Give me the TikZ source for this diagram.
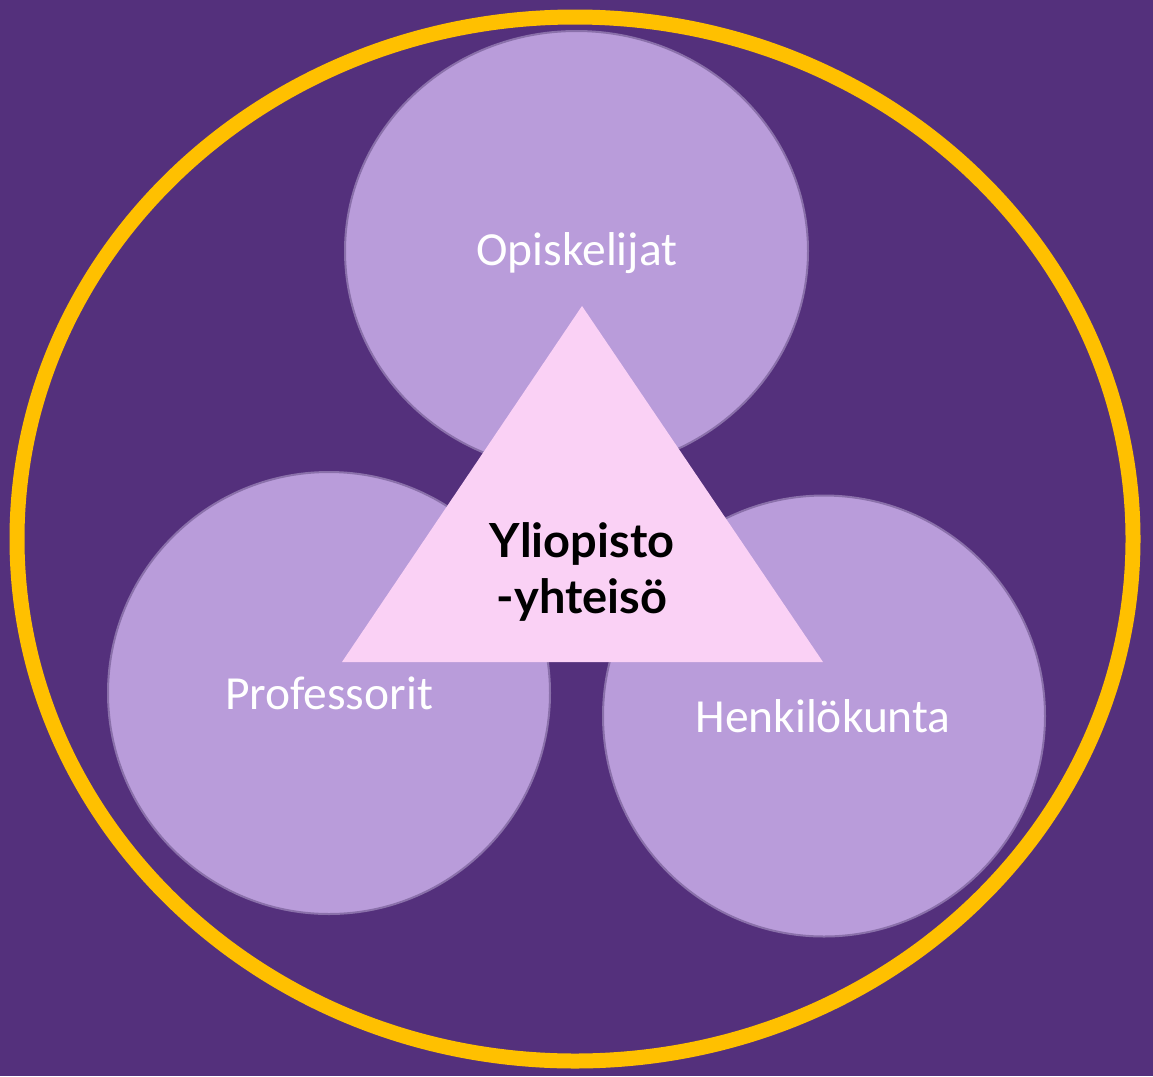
\documentclass[tikz,border=0pt]{standalone}
\usetikzlibrary{shapes.geometric}
\usepackage{fontspec}
\setmainfont{Carlito}
\newfontfamily\centerfont{Lato}
\definecolor{bgpurple}{HTML}{54307C}
\definecolor{ringyellow}{HTML}{FFC000}
\definecolor{circfill}{HTML}{B99CDA}
\definecolor{circline}{HTML}{8A70AA}
\definecolor{trifill}{HTML}{FAD1F5}
\tikzset{
  member/.style={ellipse, fill=circfill, draw=circline, line width=2pt, inner sep=0pt},
  memberlabel/.style={anchor=base, text=white, font=\fontsize{47.5}{50}\selectfont, inner sep=0pt},
}
\begin{document}
\begin{tikzpicture}[x=1pt,y=-1pt]
\fill[bgpurple] (0,0) rectangle (1153,1076);
\useasboundingbox (0,0) rectangle (1153,1076);
\draw[ringyellow, line width=15pt] (575,539) ellipse [x radius=558, y radius=522];
\node[member, minimum width=463pt, minimum height=440pt] (opi) at (576.5,251) {};
\node[member, minimum width=442pt, minimum height=442pt] (prof) at (329,693) {};
\node[member, minimum width=442pt, minimum height=441pt] (henk) at (824,716) {};
\node[memberlabel] (opit) at (577,265) {Opiskelijat};
\node[memberlabel] (proft) at (329,709) {Professorit};
\node[memberlabel] (henkt) at (823,732) {Henkilökunta};
\coordinate (apex) at (582,306);
\coordinate (bl) at (342,662);
\coordinate (br) at (823,662);
\fill[trifill] (apex) -- (bl) -- (br) -- cycle;
\node[anchor=base, inner sep=0pt, font=\centerfont\bfseries\fontsize{47}{56}\selectfont, text=black] (yy1) at (582,557) {Yliopisto};
\node[anchor=base, inner sep=0pt, font=\centerfont\bfseries\fontsize{47}{56}\selectfont, text=black] (yy2) at (582,613) {-yhteisö};
\end{tikzpicture}
\end{document}
